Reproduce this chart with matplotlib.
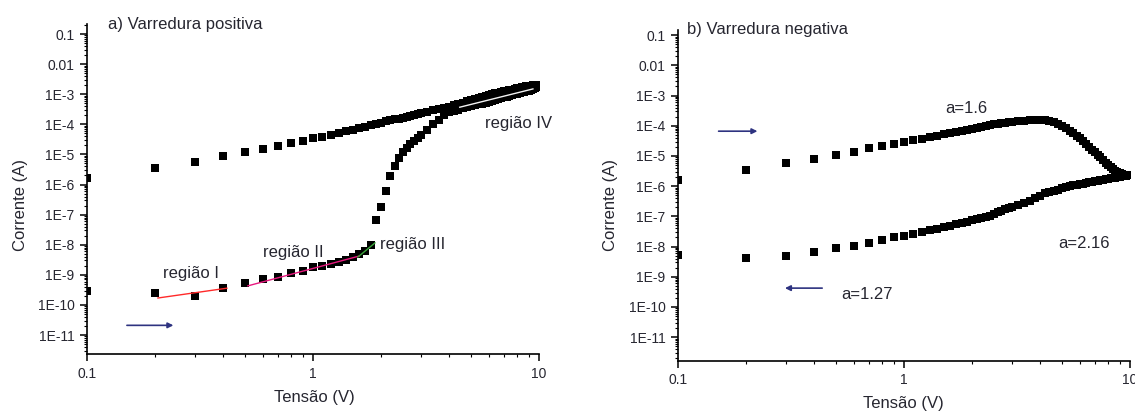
import matplotlib
matplotlib.use("Agg")
import matplotlib.pyplot as plt
from matplotlib.ticker import FixedLocator, FixedFormatter, LogLocator, NullFormatter

plt.rcParams["font.family"] = ["Liberation Sans", "DejaVu Sans"]

# Voltage grid of the sweeps (V)
voltage = [0.1, 0.2, 0.3, 0.4, 0.5, 0.6, 0.7, 0.8, 0.9, 1.0,
           1.1, 1.2, 1.3, 1.4, 1.5, 1.6, 1.7, 1.8, 1.9, 2.0,
           2.1, 2.2, 2.3, 2.4, 2.5, 2.6, 2.7, 2.8, 2.9, 3.0,
           3.2, 3.4, 3.6, 3.8, 4.0, 4.2, 4.4, 4.6, 4.8, 5.0,
           5.2, 5.4, 5.6, 5.8, 6.0, 6.2, 6.4, 6.6, 6.8, 7.0,
           7.2, 7.4, 7.6, 7.8, 8.0, 8.2, 8.4, 8.6, 8.8, 9.0,
           9.2, 9.4, 9.6, 9.8, 10.0]

# a) positive sweep: going up (0 -> 10 V)
pos_up = [2.8e-10, 2.5e-10, 2.0e-10, 3.6e-10, 5.2e-10, 7.2e-10, 8.5e-10, 1.15e-9, 1.35e-9, 1.8e-9,
          1.95e-9, 2.3e-9, 2.7e-9, 3.2e-9, 3.8e-9, 4.8e-9, 6.0e-9, 1.0e-8, 6.6e-8, 1.8e-7,
          6.2e-7, 1.9e-6, 4.0e-6, 7.5e-6, 1.2e-5, 1.6e-5, 2.2e-5, 2.8e-5, 3.6e-5, 4.5e-5,
          6.5e-5, 1.0e-4, 1.4e-4, 2.0e-4, 2.5e-4, 2.8e-4, 3.1e-4, 3.4e-4, 3.7e-4, 4.0e-4,
          4.3e-4, 4.6e-4, 4.9e-4, 5.2e-4, 5.6e-4, 6.0e-4, 6.4e-4, 6.8e-4, 7.3e-4, 7.8e-4,
          8.3e-4, 8.8e-4, 9.3e-4, 9.9e-4, 1.05e-3, 1.1e-3, 1.15e-3, 1.2e-3, 1.25e-3, 1.3e-3,
          1.37e-3, 1.45e-3, 1.55e-3, 1.7e-3, 2.0e-3]
# a) positive sweep: coming back (10 -> 0 V)
pos_down = [1.6e-6, 3.6e-6, 5.8e-6, 8.9e-6, 1.2e-5, 1.5e-5, 1.9e-5, 2.4e-5, 2.8e-5, 3.4e-5,
            3.8e-5, 4.4e-5, 5.0e-5, 5.8e-5, 6.6e-5, 7.4e-5, 8.2e-5, 9.2e-5, 1.05e-4, 1.15e-4,
            1.25e-4, 1.35e-4, 1.45e-4, 1.55e-4, 1.65e-4, 1.75e-4, 1.87e-4, 2.0e-4, 2.15e-4, 2.3e-4,
            2.6e-4, 2.9e-4, 3.2e-4, 3.5e-4, 3.8e-4, 4.3e-4, 4.8e-4, 5.3e-4, 5.9e-4, 6.5e-4,
            7.1e-4, 7.7e-4, 8.3e-4, 8.9e-4, 9.5e-4, 1.0e-3, 1.06e-3, 1.12e-3, 1.18e-3, 1.24e-3,
            1.3e-3, 1.36e-3, 1.42e-3, 1.5e-3, 1.57e-3, 1.64e-3, 1.7e-3, 1.76e-3, 1.82e-3, 1.87e-3,
            1.92e-3, 1.96e-3, 2.0e-3, 2.05e-3, 2.1e-3]

# b) negative sweep: going out (0 -> 10 V)
neg_out = [1.6e-6, 3.4e-6, 5.7e-6, 7.8e-6, 1.1e-5, 1.4e-5, 1.8e-5, 2.1e-5, 2.4e-5, 2.9e-5,
           3.3e-5, 3.7e-5, 4.2e-5, 4.7e-5, 5.2e-5, 5.8e-5, 6.3e-5, 6.9e-5, 7.5e-5, 8.1e-5,
           8.7e-5, 9.4e-5, 1.0e-4, 1.05e-4, 1.1e-4, 1.15e-4, 1.2e-4, 1.25e-4, 1.3e-4, 1.35e-4,
           1.42e-4, 1.47e-4, 1.5e-4, 1.52e-4, 1.52e-4, 1.5e-4, 1.42e-4, 1.3e-4, 1.15e-4, 9.8e-5,
           8.2e-5, 6.8e-5, 5.6e-5, 4.6e-5, 3.8e-5, 3.1e-5, 2.5e-5, 2.0e-5, 1.6e-5, 1.35e-5,
           1.1e-5, 9.0e-6, 7.2e-6, 6.0e-6, 5.0e-6, 4.2e-6, 3.6e-6, 3.2e-6, 2.9e-6, 2.7e-6,
           2.5e-6, 2.4e-6, 2.3e-6, 2.3e-6, 2.4e-6]
# b) negative sweep: coming back (10 -> 0 V)
neg_back = [5.2e-9, 4.2e-9, 4.8e-9, 6.5e-9, 8.9e-9, 1.05e-8, 1.3e-8, 1.6e-8, 2.0e-8, 2.2e-8,
            2.7e-8, 3.1e-8, 3.5e-8, 3.9e-8, 4.3e-8, 4.8e-8, 5.4e-8, 6.0e-8, 6.7e-8, 7.4e-8,
            8.0e-8, 8.7e-8, 9.5e-8, 1.05e-7, 1.2e-7, 1.35e-7, 1.5e-7, 1.7e-7, 1.9e-7, 2.1e-7,
            2.4e-7, 2.8e-7, 3.3e-7, 4.0e-7, 4.8e-7, 5.8e-7, 6.4e-7, 7.0e-7, 7.7e-7, 8.5e-7,
            9.1e-7, 9.8e-7, 1.05e-6, 1.1e-6, 1.15e-6, 1.2e-6, 1.26e-6, 1.32e-6, 1.38e-6, 1.44e-6,
            1.5e-6, 1.56e-6, 1.62e-6, 1.68e-6, 1.74e-6, 1.8e-6, 1.86e-6, 1.92e-6, 1.98e-6, 2.04e-6,
            2.1e-6, 2.17e-6, 2.24e-6, 2.32e-6, 2.4e-6]

# Power-law fits of the conduction regions: (V start, V end), (I start, I end)
fit_I_V, fit_I_I = [0.206, 0.416], [1.7e-10, 3.6e-10]
fit_II_V, fit_II_I = [0.515, 1.6], [4.3e-10, 4.2e-9]
fit_III_V, fit_III_I = [1.58, 1.88], [3.9e-9, 1.15e-8]
fit_IV_V, fit_IV_I = [4.46, 9.4], [3.7e-4, 1.5e-3]

x_ticks = [0.1, 1, 10]
x_labels = ["0.1", "1", "10"]
y_ticks = [1e-11, 1e-10, 1e-9, 1e-8, 1e-7, 1e-6, 1e-5, 1e-4, 1e-3, 1e-2, 1e-1]
y_labels = ["1E-11", "1E-10", "1E-9", "1E-8", "1E-7", "1E-6", "1E-5", "1E-4", "1E-3", "0.01", "0.1"]

TXT = "#262630"
ARROW = "#2e3380"

W, H = 1135, 412
fig = plt.figure(figsize=(W / 100, H / 100), dpi=100)
ax1 = fig.add_axes([87 / W, 1 - 354 / H, 452 / W, 330 / H])
ax2 = fig.add_axes([678 / W, 1 - 361 / H, 452 / W, 331 / H])


def style(ax, ylim):
    ax.set_xscale("log")
    ax.set_yscale("log")
    ax.set_xlim(0.1, 10)
    ax.set_ylim(*ylim)
    for s in ("top", "right"):
        ax.spines[s].set_visible(False)
    for s in ("left", "bottom"):
        ax.spines[s].set_linewidth(1.2)
    ax.xaxis.set_major_locator(FixedLocator(x_ticks))
    ax.xaxis.set_major_formatter(FixedFormatter(x_labels))
    ax.xaxis.set_minor_locator(LogLocator(base=10, subs=range(2, 10)))
    ax.xaxis.set_minor_formatter(NullFormatter())
    ax.yaxis.set_major_locator(FixedLocator(y_ticks))
    ax.yaxis.set_major_formatter(FixedFormatter(y_labels))
    ax.yaxis.set_minor_locator(LogLocator(base=10, subs=range(2, 10), numticks=30))
    ax.yaxis.set_minor_formatter(NullFormatter())
    ax.tick_params(which="major", direction="out", length=5, width=1.1,
                   labelsize=10, labelcolor=TXT, pad=4)
    ax.tick_params(which="minor", direction="out", length=2.5, width=0.8)
    ax.set_xlabel("Tensão (V)", fontsize=12, color=TXT)
    ax.set_ylabel("Corrente (A)", fontsize=12, color=TXT)
    ax.xaxis.label.set_va("center")
    ax.yaxis.label.set_va("center")


style(ax1, (10 ** -11.63, 10 ** -0.667))
style(ax2, (10 ** -11.79, 10 ** -0.83))
ax1.xaxis.set_label_coords(0.502, -0.133)
ax1.yaxis.set_label_coords(-0.148, 0.45)
ax2.xaxis.set_label_coords(0.498, -0.127)
ax2.yaxis.set_label_coords(-0.150, 0.47)

mk = dict(linestyle="none", marker="s", color="black", markersize=5.3, markeredgewidth=0)

# a) positive sweep
ax1.plot(voltage, pos_up, **mk)
ax1.plot(voltage, pos_down, **mk)
ax1.plot(fit_I_V, fit_I_I, color="#ff2a2a", lw=1.0, zorder=5)
ax1.plot(fit_II_V, fit_II_I, color="#e8187e", lw=1.0, zorder=5)
ax1.plot(fit_III_V, fit_III_I, color="#3aa53a", lw=1.0, zorder=5)
ax1.plot(fit_IV_V, fit_IV_I, color="#f4f4f4", lw=1.0, zorder=5)

ax1.text(0.046, 0.997, "a) Varredura positiva", transform=ax1.transAxes,
         fontsize=12, color=TXT, ha="left", va="center")
ax1.text(0.217, 1.15e-9, "região I", fontsize=12, color=TXT, ha="left", va="center")
ax1.text(0.60, 5.7e-9, "região II", fontsize=12, color=TXT, ha="left", va="center")
ax1.text(1.98, 1.0e-8, "região III", fontsize=12, color=TXT, ha="left", va="center")
ax1.text(5.76, 1.1e-4, "região IV", fontsize=12, color=TXT, ha="left", va="center")
ax1.annotate("", xy=(0.248, 2.1e-11), xytext=(0.146, 2.1e-11),
             arrowprops=dict(arrowstyle="-|>", color=ARROW, lw=1.2, mutation_scale=8))

# b) negative sweep
ax2.plot(voltage, neg_out, **mk)
ax2.plot(voltage, neg_back, **mk)

ax2.text(0.02, 1.003, "b) Varredura negativa", transform=ax2.transAxes,
         fontsize=12, color=TXT, ha="left", va="center")
ax2.text(1.52, 3.8e-4, "a=1.6", fontsize=12, color=TXT, ha="left", va="center")
ax2.text(4.8, 1.3e-8, "a=2.16", fontsize=12, color=TXT, ha="left", va="center")
ax2.text(0.53, 2.6e-10, "a=1.27", fontsize=12, color=TXT, ha="left", va="center")
ax2.annotate("", xy=(0.231, 6.6e-5), xytext=(0.147, 6.6e-5),
             arrowprops=dict(arrowstyle="-|>", color=ARROW, lw=1.2, mutation_scale=8))
ax2.annotate("", xy=(0.289, 4.2e-10), xytext=(0.447, 4.2e-10),
             arrowprops=dict(arrowstyle="-|>", color=ARROW, lw=1.2, mutation_scale=8))

fig.savefig("out.png", dpi=100, facecolor="white")
